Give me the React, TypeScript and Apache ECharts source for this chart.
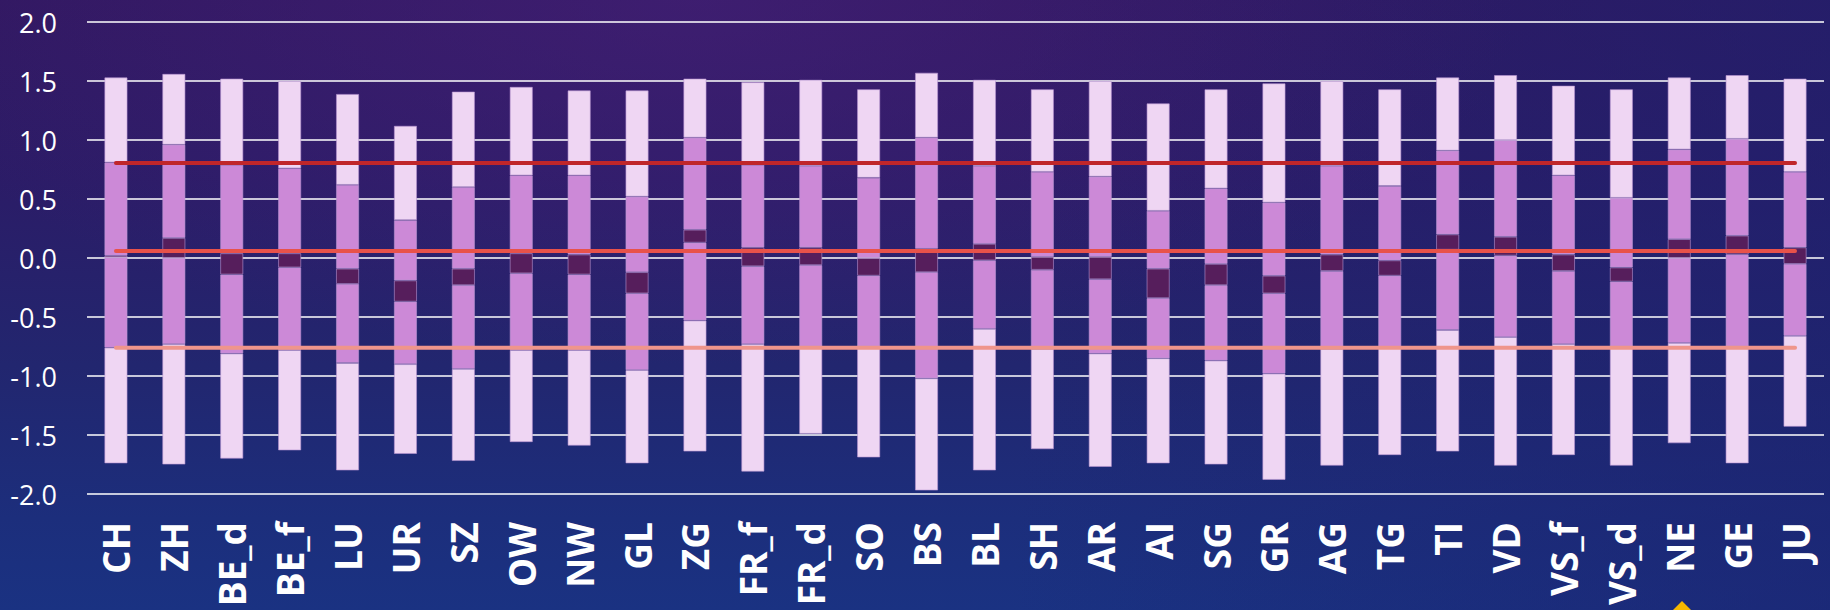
import React, { useEffect, useRef } from "react";
import * as echarts from "echarts";

const CATEGORIES = ["CH", "ZH", "BE_d", "BE_f", "LU", "UR", "SZ", "OW", "NW", "GL", "ZG", "FR_f", "FR_d", "SO", "BS", "BL", "SH", "AR", "AI", "SG", "GR", "AG", "TG", "TI", "VD", "VS_f", "VS_d", "NE", "GE", "JU"];

// segment boundaries per category, bottom to top
const MIN_VAL = [-1.74, -1.75, -1.70, -1.63, -1.80, -1.66, -1.72, -1.56, -1.59, -1.74, -1.64, -1.81, -1.49, -1.69, -1.97, -1.80, -1.62, -1.77, -1.74, -1.75, -1.88, -1.76, -1.67, -1.64, -1.76, -1.67, -1.76, -1.57, -1.74, -1.43];
const LOWER_Q = [-0.76, -0.73, -0.81, -0.78, -0.89, -0.90, -0.94, -0.78, -0.78, -0.95, -0.53, -0.73, -0.75, -0.75, -1.02, -0.60, -0.77, -0.81, -0.85, -0.87, -0.98, -0.77, -0.76, -0.61, -0.67, -0.73, -0.75, -0.72, -0.75, -0.66];
const DARK_LOW = [0.005, 0.00, -0.14, -0.08, -0.22, -0.37, -0.23, -0.13, -0.14, -0.30, 0.13, -0.07, -0.06, -0.15, -0.12, -0.02, -0.10, -0.18, -0.34, -0.23, -0.30, -0.11, -0.15, 0.07, 0.02, -0.11, -0.20, 0.00, 0.03, -0.05];
const DARK_HIGH = [0.02, 0.17, 0.04, 0.04, -0.09, -0.19, -0.09, 0.04, 0.03, -0.12, 0.24, 0.09, 0.09, 0.00, 0.08, 0.12, 0.01, 0.01, -0.09, -0.05, -0.15, 0.03, -0.02, 0.20, 0.18, 0.03, -0.08, 0.16, 0.19, 0.09];
const UPPER_Q = [0.81, 0.96, 0.79, 0.76, 0.62, 0.32, 0.60, 0.70, 0.70, 0.52, 1.02, 0.79, 0.78, 0.68, 1.02, 0.78, 0.73, 0.69, 0.40, 0.59, 0.47, 0.78, 0.61, 0.91, 1.00, 0.70, 0.51, 0.92, 1.01, 0.73];
const MAX_VAL = [1.53, 1.56, 1.52, 1.50, 1.39, 1.12, 1.41, 1.45, 1.42, 1.42, 1.52, 1.49, 1.51, 1.43, 1.57, 1.51, 1.43, 1.50, 1.31, 1.43, 1.48, 1.50, 1.43, 1.53, 1.55, 1.46, 1.43, 1.53, 1.55, 1.52];

const LINE_HIGH = 0.805;
const LINE_MID = 0.06;
const LINE_LOW = -0.76;

const Y_TICKS = [-2.0, -1.5, -1.0, -0.5, 0.0, 0.5, 1.0, 1.5, 2.0];

const LIGHT = "#EFD6F3";
const MEDIUM = "#CC89D7";
const DARK = "#561E5C";
const BORDER = "rgba(185,150,210,0.75)";

export default function App() {
  const ref = useRef<HTMLDivElement>(null);

  useEffect(() => {
    if (!ref.current) return;
    const chart = echarts.init(ref.current, null, { renderer: "svg" });

    const diff = (a: number[], b: number[]) => a.map((v, i) => +(v - b[i]).toFixed(4));
    const segs = [
      { name: "base", data: MIN_VAL, color: "transparent" },
      { name: "low", data: diff(LOWER_Q, MIN_VAL), color: LIGHT },
      { name: "midLow", data: diff(DARK_LOW, LOWER_Q), color: MEDIUM },
      { name: "core", data: diff(DARK_HIGH, DARK_LOW), color: DARK },
      { name: "midHigh", data: diff(UPPER_Q, DARK_HIGH), color: MEDIUM },
      { name: "high", data: diff(MAX_VAL, UPPER_Q), color: LIGHT },
    ];

    const barSeries = segs.map((s, k) => ({
      type: "bar",
      name: s.name,
      stack: "range",
      stackStrategy: "all",
      barWidth: 23,
      silent: true,
      data: s.data,
      itemStyle: k === 0
        ? { color: "transparent", borderWidth: 0 }
        : { color: s.color, borderColor: BORDER, borderWidth: 0.8 },
      z: 2,
    }));

    const lineOf = (v: number, color: string) => ({
      type: "line",
      data: [[CATEGORIES[0], v], [CATEGORIES[CATEGORIES.length - 1], v]],
      symbol: "none",
      silent: true,
      lineStyle: { color, width: 4, cap: "round" },
      z: 5,
    });

    chart.setOption({
      animation: false,
      backgroundColor: "transparent",
      grid: { left: 87, right: 6, top: 22, bottom: 116, containLabel: false },
      xAxis: {
        type: "category",
        data: CATEGORIES,
        axisLine: { show: false },
        axisTick: { show: false },
        axisLabel: {
          rotate: 90,
          color: "#ffffff",
          fontFamily: "Open Sans",
          fontWeight: "bold",
          fontSize: 37,
          margin: 28,
        },
      },
      yAxis: {
        type: "value",
        min: Y_TICKS[0],
        max: Y_TICKS[Y_TICKS.length - 1],
        interval: 0.5,
        axisLine: { show: false },
        axisTick: { show: false },
        splitLine: { lineStyle: { color: "#ffffff", width: 1.6 } },
        axisLabel: {
          color: "#ffffff",
          fontFamily: "Open Sans",
          fontSize: 27,
          margin: 30,
          formatter: (v: number) => v.toFixed(1),
        },
      },
      graphic: [
        {
          type: "polygon",
          shape: { points: [[1682, 601], [1694, 613], [1670, 613]] },
          style: { fill: "#F5B700" },
          silent: true,
        },
      ],
      series: [
        ...barSeries,
        lineOf(LINE_HIGH, "#C0262A"),
        lineOf(LINE_MID, "#E8524A"),
        lineOf(LINE_LOW, "#EF958B"),
      ],
    });

    return () => chart.dispose();
  }, []);

  return (
    <div
      style={{
        position: "absolute",
        left: 0,
        top: 0,
        width: 1830,
        height: 610,
        overflow: "hidden",
        background:
          "radial-gradient(ellipse 45% 60% at 38% 0%, rgba(72,34,124,0.55), rgba(0,0,0,0) 100%)," +
          "linear-gradient(90deg, rgba(0,0,0,0) 55%, rgba(28,34,112,0.55) 100%)," +
          "linear-gradient(180deg, #311861 0%, #2b1c67 30%, #22266f 60%, #1c2e7c 85%, #1a3282 100%)",
      }}
    >
      <div ref={ref} style={{ width: 1830, height: 610 }} />
    </div>
  );
}
